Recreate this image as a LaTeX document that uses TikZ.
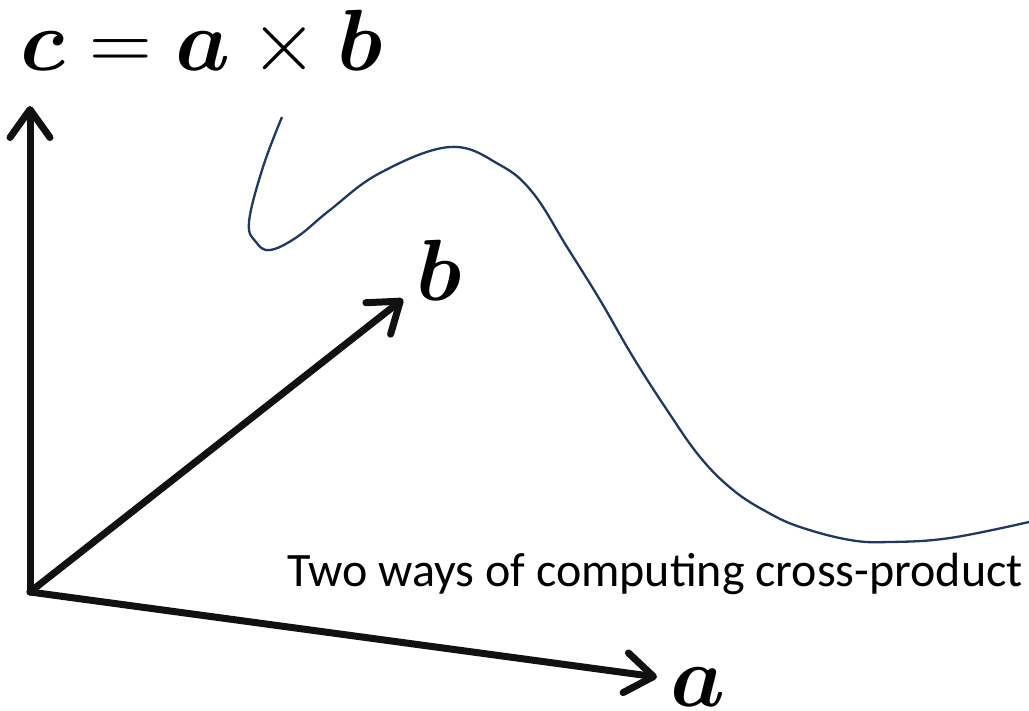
\RequirePackage{fix-cm}
\documentclass[tikz,border=0pt]{standalone}
\usepackage{fontspec}
\usepackage{amsmath,bm}
\setmainfont{Carlito}
\usetikzlibrary{arrows.meta}
\definecolor{curvenavy}{RGB}{31,56,100}
\definecolor{inkblack}{RGB}{17,17,17}
\tikzset{
  vec/.style={draw=inkblack, line width=7pt, line cap=round,
    -{Straight Barb[length=28pt,width=40pt,line cap=round,line join=round]}},
  mathlabel/.style={inner sep=0pt, font=\fontsize{87}{87}\selectfont},
  caption/.style={inner sep=0pt, font=\fontsize{48}{48}\selectfont},
}
\begin{document}
\begin{tikzpicture}[x=1pt,y=-1pt]
\useasboundingbox (0,0) rectangle (1029,711);
\coordinate (O) at (30,592);
\coordinate (ctip) at (30,106);
\coordinate (btip) at (403,299);
\coordinate (atip) at (657,677);
\draw[vec] (O) -- (ctip);
\draw[vec] (O) -- (btip);
\draw[vec] (O) -- (atip);
\node[mathlabel, anchor=base west] (eq) at (20,71) {$\bm{c}=\bm{a}\times\bm{b}$};
\node[mathlabel, anchor=base west] (blab) at (416,301) {$\bm{b}$};
\node[mathlabel, anchor=base west] (alab) at (670,706) {$\bm{a}$};
\node[caption, anchor=base west] (cap) at (287,586) {Two ways of computing cross-product};
\draw[curvenavy, line width=2.3pt] plot[smooth, tension=0.65] coordinates {
 (282,117) (263,167) (249,222) (256,242) (270,250) (297,237) (330,210) (380,173)
 (450,147) (500,165) (533,193) (567,247) (600,300) (633,357) (667,410)
 (700,457) (733,490) (767,512) (800,527) (850,540) (890,542) (950,538) (1029,522)};
\end{tikzpicture}
\end{document}
